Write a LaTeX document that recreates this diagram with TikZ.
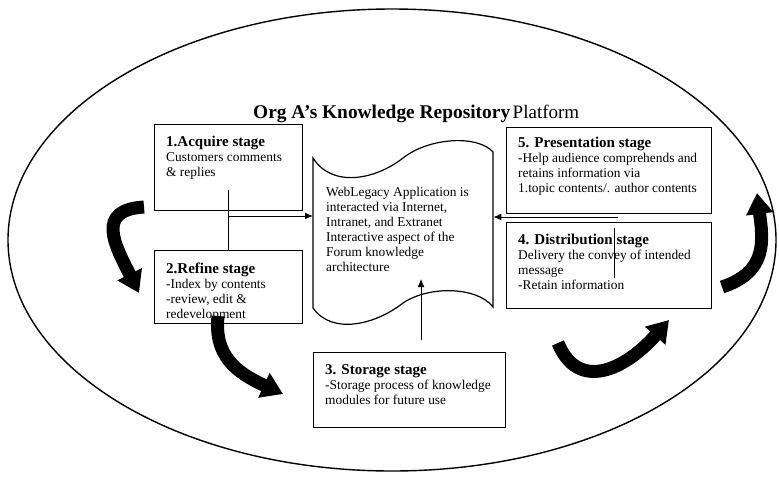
\documentclass[tikz,border=0pt]{standalone}
\usepackage{fontspec}
\setmainfont{Liberation Serif}
\usetikzlibrary{arrows.meta}
\newcommand{\stagehd}[1]{{\fontsize{15}{15}\selectfont\bfseries #1}}
\begin{document}
\begin{tikzpicture}[x=1pt,y=-1pt,
  stagebox/.style={draw, line width=1.4pt, inner sep=0pt, anchor=north west},
  txt/.style={anchor=north west, inner sep=0pt, align=left, font=\fontsize{13.4}{15}\selectfont},
  conn/.style={line width=1pt},
  tip/.style={-{Latex[length=8pt,width=7pt]}},
  bigarrow/.style={line width=13pt, -{Triangle[length=21pt,width=26pt]}},
]
\path[use as bounding box] (0,0) rectangle (779,477);

% outer ellipse
\draw[line width=1.4pt] (392,240) ellipse [x radius=384pt, y radius=231pt];

% title
\node[anchor=base west, inner sep=0pt] (title) at (253,118)
  {{\fontsize{19.4}{21}\selectfont\bfseries Org A's Knowledge Repository} {\fontsize{19}{21}\selectfont Platform}};

% stage boxes
\node[stagebox, minimum width=148pt, minimum height=86pt] (b1) at (154,124) {};
\node[stagebox, minimum width=148pt, minimum height=73pt] (b2) at (154,250) {};
\node[stagebox, minimum width=192pt, minimum height=75pt] (b3) at (313,352) {};
\node[stagebox, minimum width=205pt, minimum height=86pt] (b4) at (506,222) {};
\node[stagebox, minimum width=205pt, minimum height=86pt] (b5) at (506,127) {};

% document shape
\draw[line width=1.2pt, fill=white]
  (313,158) .. controls (332,188) and (375,180) .. (403,158)
  .. controls (430,137) and (478,135) .. (493,152) -- (493,307)
  .. controls (478,287) and (430,285) .. (403,303)
  .. controls (375,325) and (332,335) .. (313,308) -- cycle;
\node[inner sep=0pt, minimum width=180pt, minimum height=150pt, anchor=north west] (doc) at (313,158) {};

% texts
\node[txt] (t1) at (166,136) {\stagehd{1.Acquire stage}\\Customers comments\\\& replies};
\node[txt] (t2) at (166,263) {\stagehd{2.Refine stage}\\-Index by contents\\-review, edit \&\\redevelopment};
\node[txt] (td) at (326,187) {WebLegacy Application is\\interacted via Internet,\\Intranet, and Extranet\\Interactive aspect of the\\Forum knowledge\\architecture};
\node[txt] (t5) at (518,137) {\stagehd{5. Presentation stage}\\-Help audience comprehends and\\retains information via\\1.topic contents/. author contents};
\node[txt] (t4) at (518,234) {\stagehd{4. Distribution stage}\\Delivery the convey of intended\\message\\-Retain information};
\node[txt] (t3) at (325,364) {\stagehd{3. Storage stage}\\-Storage process of knowledge\\modules for future use};

% connectors
\coordinate (jtop) at (228,190);
\coordinate (j) at (228,216);
\draw[conn] (jtop) -- (jtop |- b2.north);
\draw[conn, tip] (j) -- (j -| doc.west);
\coordinate (r) at (618,217);
\draw[conn, tip] (r) -- (r -| doc.east);
\coordinate (s) at (421,279);
\path ([yshift=12pt]b3.north) coordinate (b3top);
\draw[conn, tip] (b3top -| s) -- (s);
\coordinate (v4) at (614,278);
\draw[conn] ([yshift=-6pt]b4.north -| v4) -- (v4);

% big curved arrows
\draw[bigarrow] (144,207) .. controls (95,210) and (115,245) .. (139,293);
\draw[bigarrow] (218,316) .. controls (214,355) and (235,372) .. (283,394);
\draw[bigarrow] (558,343) .. controls (578,392) and (625,370) .. (669,320);
\draw[bigarrow] (722,287) .. controls (768,272) and (763,240) .. (757,193);
\end{tikzpicture}
\end{document}
